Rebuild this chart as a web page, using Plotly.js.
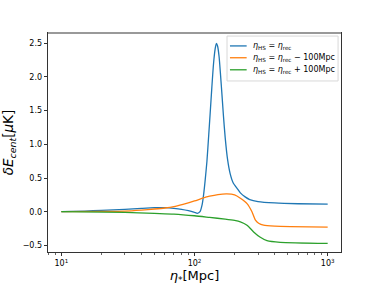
<!DOCTYPE html>
<html>
<head>
<meta charset="utf-8">
<script src="https://cdn.plot.ly/plotly-3.0.1.min.js"></script>
<style>html,body{margin:0;padding:0;background:#fff;}#chart{width:381px;height:285px;}</style>
</head>
<body>
<div id="chart"></div>
<script>
var blueX = [10, 15, 20, 30, 40, 50, 60, 70, 80, 90, 100, 105, 110, 114, 117, 120, 124, 128, 131, 135, 139, 143, 146, 149, 153, 157, 161, 165, 170, 177, 185, 195, 210, 221, 240, 260, 300, 400, 600, 1000];
var blueY = [0.0, 0.01, 0.02, 0.035, 0.05, 0.06, 0.06, 0.05, 0.035, 0.015, -0.01, -0.024, 0.0, 0.1, 0.25, 0.45, 0.75, 1.15, 1.45, 1.85, 2.2, 2.42, 2.5, 2.46, 2.3, 2.02, 1.72, 1.42, 1.1, 0.78, 0.57, 0.43, 0.34, 0.28, 0.22, 0.18, 0.15, 0.13, 0.118, 0.112];
var orangeX = [10, 20, 30, 40, 50, 60, 70, 82, 100, 115, 130, 150, 175, 200, 221, 248, 270, 286, 303, 330, 400, 525, 1000];
var orangeY = [0.0, 0.005, 0.01, 0.025, 0.04, 0.055, 0.075, 0.11, 0.16, 0.2, 0.23, 0.255, 0.265, 0.25, 0.2, 0.12, 0.0, -0.12, -0.17, -0.2, -0.215, -0.222, -0.23];
var greenX = [10, 30, 50, 70, 100, 130, 170, 200, 221, 248, 278, 312, 350, 440, 1000];
var greenY = [0.0, -0.01, -0.025, -0.035, -0.06, -0.085, -0.11, -0.13, -0.15, -0.2, -0.3, -0.38, -0.43, -0.455, -0.47];
var seriesNames = ['<i>η</i><sub>HS</sub> = <i>η</i><sub>rec</sub>', '<i>η</i><sub>HS</sub> = <i>η</i><sub>rec</sub> − 100Mpc', '<i>η</i><sub>HS</sub> = <i>η</i><sub>rec</sub> + 100Mpc'];
var xTickVals = [10, 100, 1000];
var xTickText = ['10<sup>1</sup>', '10<sup>2</sup>', '10<sup>3</sup>'];
var yTickVals = [-0.5, 0.0, 0.5, 1.0, 1.5, 2.0, 2.5];
var yTickText = ['−0.5', '0.0', '0.5', '1.0', '1.5', '2.0', '2.5'];

var minorVals = [];
[1, 10, 100].forEach(function(d){ for (var k = 2; k <= 9; k++) minorVals.push(k*d); });

var colors = ['#1f77b4', '#ff7f0e', '#2ca02c'];
var xs = [blueX, orangeX, greenX], ys = [blueY, orangeY, greenY];
var data = xs.map(function(x, i){
  return {x: x, y: ys[i], type: 'scatter', mode: 'lines', name: seriesNames[i], showlegend: false,
    line: {color: colors[i], width: 1.3, shape: 'spline', smoothing: 0.6}};
});

// manual legend (matplotlib-style compact box)
var legRowsY = [0.941, 0.887, 0.832];
var shapes = [
  {type: 'line', xref: 'paper', yref: 'paper', x0: 0, x1: 1, y0: 1, y1: 1, line: {color: '#999', width: 2}},
  {type: 'rect', xref: 'paper', yref: 'paper', x0: 0.611, x1: 0.99, y0: 0.781, y1: 0.986,
   line: {color: '#d8d8d8', width: 1}, fillcolor: 'rgba(255,255,255,0.8)', layer: 'above'}
];
var annotations = [];
seriesNames.forEach(function(n, i){
  shapes.push({type: 'line', xref: 'paper', yref: 'paper', x0: 0.621, x1: 0.678, y0: legRowsY[i], y1: legRowsY[i],
    line: {color: colors[i], width: 1.3}, layer: 'above'});
  annotations.push({xref: 'paper', yref: 'paper', x: 0.693, y: legRowsY[i], xanchor: 'left', yanchor: 'middle',
    text: n, showarrow: false, font: {family: 'DejaVu Sans', size: 8, color: '#000'}});
});

var layout = {
  width: 381, height: 285,
  margin: {l: 48, r: 40, t: 33, b: 33},
  paper_bgcolor: '#fff', plot_bgcolor: '#fff',
  font: {family: 'DejaVu Sans', size: 8, color: '#000'},
  showlegend: false,
  xaxis: {type: 'log', range: [0.9, 3.1], tickmode: 'array', tickvals: xTickVals, ticktext: xTickText,
    ticks: 'outside', ticklen: 3.5, tickwidth: 0.8, tickcolor: '#000',
    showline: true, linecolor: '#000', linewidth: 0.8, mirror: true, showgrid: false, zeroline: false,
    tickfont: {family: 'DejaVu Sans', size: 8, color: '#000'},
    minor: {tickmode: 'array', tickvals: minorVals, ticks: 'outside', ticklen: 2, tickwidth: 0.6, tickcolor: '#000', showgrid: false},
    title: {text: '<i>η</i><sub>*</sub>[Mpc]', font: {family: 'DejaVu Sans', size: 13, color: '#000'}, standoff: 3}},
  yaxis: {range: [-0.598, 2.653], tickmode: 'array', tickvals: yTickVals, ticktext: yTickText,
    ticks: 'outside', ticklen: 3.5, tickwidth: 0.8, tickcolor: '#000',
    showline: true, linecolor: '#000', linewidth: 0.8, mirror: true, showgrid: false, zeroline: false,
    tickfont: {family: 'DejaVu Sans', size: 8, color: '#000'},
    title: {text: '<i>δE</i><sub><i>cent</i></sub>[<i>μ</i>K]', font: {family: 'DejaVu Sans', size: 13.5, color: '#000'}, standoff: 5}},
  shapes: shapes,
  annotations: annotations
};
Plotly.newPlot('chart', data, layout, {displayModeBar: false, staticPlot: true});
</script>
</body>
</html>
